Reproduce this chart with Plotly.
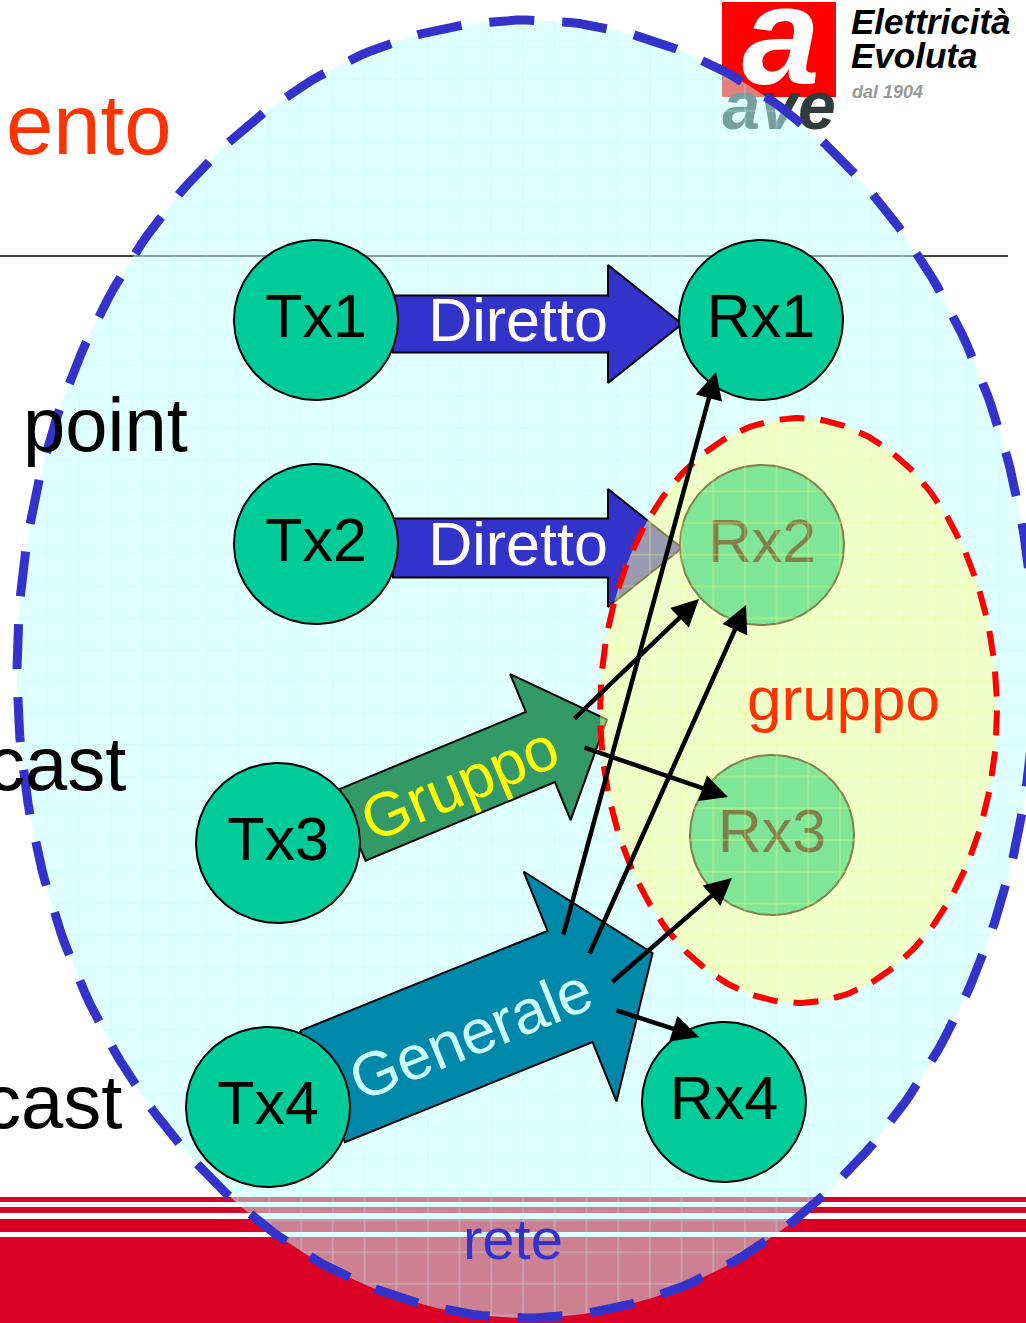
import numpy as np
import plotly.graph_objects as go

# ---------------- data (labels / relations) ----------------
node_names = ["Tx1", "Rx1", "Tx2", "Rx2", "Tx3", "Rx3", "Tx4", "Rx4"]
grouped_nodes = ["Rx2", "Rx3"]
arrow_labels = ["Diretto", "Diretto", "Gruppo", "Generale"]
side_labels = ["ento", "point", "cast", "cast"]
group_label = "gruppo"
network_label = "rete"
logo_mark = "a"
logo_brand = "ave"
logo_lines = ["Elettricità", "Evoluta", "dal 1904"]
link_sources = ["Generale", "Generale", "Gruppo", "Gruppo", "Generale", "Generale"]
link_targets = ["Rx1", "Rx2", "Rx2", "Rx3", "Rx3", "Rx4"]

# ---------------- geometry (pixel space) ----------------
W, H = 1026, 1323
FONT = "Liberation Sans, Arial, Helvetica, sans-serif"

node_pos = {
    "Tx1": (316, 320), "Rx1": (761, 320),
    "Tx2": (316, 544), "Rx2": (762, 545),
    "Tx3": (278, 843), "Rx3": (772, 835),
    "Tx4": (268, 1107), "Rx4": (724, 1102),
}
NODE_RX, NODE_RY = 82, 80

# block arrows: tail centre, angle, body length, body width, head length, head width
arrow_geo = [
    dict(x=393, y=324, ang=0, bl=215, bw=57, hl=74, hw=118, fill="#3333CC",
         tx=518, ty=326, tang=0, tcol="#FFFFFF"),
    dict(x=393, y=548, ang=0, bl=215, bw=59, hl=74, hw=118, fill="#3333CC",
         tx=518, ty=550, tang=0, tcol="#FFFFFF"),
    dict(x=351, y=825.5, ang=22.5, bl=205, bw=76, hl=72, hw=158, fill="#339966",
         tx=459, ty=783, tang=-22.5, tcol="#FFFF00"),
    dict(x=322.5, y=1086.5, ang=22, bl=267, bw=120, hl=89, hw=248, fill="#0088AA",
         tx=470, ty=1034, tang=-22, tcol="#CCFFFF"),
]

# black link arrows: tail (x, y) -> tip (x, y)
link_geo = [
    ((563, 936), (716, 372)),
    ((589, 955), (746, 605)),
    ((573, 720), (699, 599)),
    ((583, 747), (728, 797)),
    ((611, 983), (732, 878)),
    ((615, 1010), (699, 1037)),
]

side_geo = [
    dict(x=4, y=124, size=85, color="#FF3300", anchor="left"),
    dict(x=21, y=424, size=76, color="#000000", anchor="left"),
    dict(x=128, y=763, size=76, color="#000000", anchor="right"),
    dict(x=124, y=1101, size=76, color="#000000", anchor="right"),
]

big_ell = dict(cx=526, cy=669, rx=509, ry=649)
grp_ell = dict(cx=798.5, cy=710.5, rx=198.5, ry=292.5)


def ellipse_pts(cx, cy, rx, ry, n=361):
    t = np.linspace(0, 2 * np.pi, n)
    return cx + rx * np.cos(t), cy + ry * np.sin(t)


def block_arrow(g):
    a = np.radians(g["ang"])
    d = np.array([np.cos(a), -np.sin(a)])
    p = np.array([np.sin(a), np.cos(a)])
    o = np.array([g["x"], g["y"]])
    bl, bw, hl, hw = g["bl"], g["bw"], g["hl"], g["hw"]
    pts = [o - p * bw / 2, o + d * bl - p * bw / 2, o + d * bl - p * hw / 2,
           o + d * (bl + hl), o + d * bl + p * hw / 2, o + d * bl + p * bw / 2,
           o + p * bw / 2, o - p * bw / 2]
    pts = np.array(pts)
    return pts[:, 0], pts[:, 1]


fig = go.Figure()
shapes = []

# red network band with white stripes
red = "#DB0026"
for y0, y1 in [(1197, 1202), (1207, 1213), (1219, 1232), (1237, H)]:
    shapes.append(dict(type="rect", x0=0, x1=W, y0=y0, y1=y1, fillcolor=red,
                       line=dict(width=0), layer="below"))
# title rule
shapes.append(dict(type="line", x0=0, x1=1008, y0=256, y1=256,
                   line=dict(color="#000000", width=1.5), layer="below"))
# logo square
shapes.append(dict(type="rect", x0=722, x1=836, y0=2, y1=97, fillcolor="#FF0000",
                   line=dict(width=0), layer="below"))

# logo letters (below the big ellipse)
fig.add_trace(go.Scatter(x=[781], y=[49], mode="text", text=[logo_mark],
                         textfont=dict(family=FONT, size=140, color="#FFFFFF",
                                       weight="bold", style="italic"),
                         hoverinfo="skip", showlegend=False))
fig.add_trace(go.Scatter(x=[779], y=[112], mode="text", text=[logo_brand],
                         textfont=dict(family=FONT, size=68, color="#2F3C3B",
                                       weight="bold", style="italic"),
                         hoverinfo="skip", showlegend=False))

# big ellipse fill
ex, ey = ellipse_pts(**big_ell)
fig.add_trace(go.Scatter(
    x=ex, y=ey, mode="lines", line=dict(width=0, color="rgba(0,0,0,0)"),
    fill="toself", fillcolor="rgba(193,255,255,0.5)",
    fillpattern=dict(shape="+", size=31.7, solidity=0.05,
                     fgcolor="rgba(180,248,255,0.58)",
                     bgcolor="rgba(193,255,255,0.5)", fillmode="replace"),
    hoverinfo="skip", showlegend=False))
fig.add_trace(go.Scatter(
    x=ex, y=ey, mode="lines", line=dict(width=9, color="#3333CC", dash="45px,28px"),
    hoverinfo="skip", showlegend=False))

# block arrows
for g in arrow_geo:
    ax_, ay_ = block_arrow(g)
    fig.add_trace(go.Scatter(x=ax_, y=ay_, mode="lines", fill="toself",
                             fillcolor=g["fill"], line=dict(color="#000000", width=2),
                             hoverinfo="skip", showlegend=False))

# nodes
for name in node_names:
    cx, cy = node_pos[name]
    nx, ny = ellipse_pts(cx, cy, NODE_RX, NODE_RY, 181)
    fig.add_trace(go.Scatter(x=nx, y=ny, mode="lines", fill="toself",
                             fillcolor="#00CC99", line=dict(color="#000000", width=2),
                             hoverinfo="skip", showlegend=False))
    fig.add_trace(go.Scatter(x=[cx], y=[cy + 2], mode="text", text=[name],
                             textfont=dict(family=FONT, size=61, color="#000000"),
                             hoverinfo="skip", showlegend=False))

# straight labels on Diretto arrows
for lab, g in zip(arrow_labels[:2], arrow_geo[:2]):
    fig.add_trace(go.Scatter(x=[g["tx"]], y=[g["ty"]], mode="text", text=[lab],
                             textfont=dict(family=FONT, size=61, color=g["tcol"]),
                             hoverinfo="skip", showlegend=False))

# group ellipse (semi-transparent yellow over Rx2 / Rx3)
gx, gy = ellipse_pts(**grp_ell)
fig.add_trace(go.Scatter(
    x=gx, y=gy, mode="lines", line=dict(width=0, color="rgba(0,0,0,0)"),
    fill="toself", fillcolor="rgba(255,255,150,0.5)",
    fillpattern=dict(shape="+", size=31.7, solidity=0.05,
                     fgcolor="rgba(255,255,120,0.65)",
                     bgcolor="rgba(255,255,150,0.5)", fillmode="replace"),
    hoverinfo="skip", showlegend=False))
fig.add_trace(go.Scatter(
    x=gx, y=gy, mode="lines", line=dict(width=6, color="#FF0000", dash="25px,16px"),
    hoverinfo="skip", showlegend=False))

annotations = []
# rotated labels
for lab, g in zip(arrow_labels[2:], arrow_geo[2:]):
    annotations.append(dict(x=g["tx"], y=g["ty"], xref="x", yref="y", text=lab,
                            showarrow=False, textangle=g["tang"],
                            font=dict(family=FONT, size=62, color=g["tcol"])))

# link arrows
for (t0, t1) in link_geo:
    annotations.append(dict(x=t1[0], y=t1[1], ax=t0[0], ay=t0[1], xref="x", yref="y",
                            axref="x", ayref="y", text="", showarrow=True,
                            arrowhead=2, arrowwidth=4.5, arrowsize=1.2,
                            arrowcolor="#000000", standoff=0, startstandoff=0))

# side labels
for lab, s in zip(side_labels, side_geo):
    annotations.append(dict(x=s["x"], y=s["y"], xref="x", yref="y", text=lab,
                            showarrow=False, xanchor=s["anchor"], yanchor="middle",
                            font=dict(family=FONT, size=s["size"], color=s["color"])))

annotations.append(dict(x=843, y=698, xref="x", yref="y", text=group_label,
                        showarrow=False, font=dict(family=FONT, size=62, color="#FF3300")))
annotations.append(dict(x=513, y=1238, xref="x", yref="y", text=network_label,
                        showarrow=False, font=dict(family=FONT, size=58, color="#3333CC")))

# logo wording
logo_geo = [(849, 21, 35, "#000000"), (849, 55, 35, "#000000"), (850, 92, 18, "#999999")]
for lab, (lx, ly, ls, lc) in zip(logo_lines, logo_geo):
    annotations.append(dict(x=lx, y=ly, xref="x", yref="y", text=lab, showarrow=False,
                            xanchor="left", yanchor="middle",
                            font=dict(family=FONT, size=ls, color=lc,
                                      weight="bold", style="italic")))

fig.update_layout(
    width=W, height=H, margin=dict(l=0, r=0, t=0, b=0),
    paper_bgcolor="#FFFFFF", plot_bgcolor="#FFFFFF",
    xaxis=dict(range=[0, W], visible=False, fixedrange=True),
    yaxis=dict(range=[H, 0], visible=False, fixedrange=True),
    shapes=shapes, annotations=annotations, showlegend=False,
)

fig.write_html("out.html", config={"displayModeBar": False},
               post_script="document.body.style.margin='0';"
                           "document.body.style.overflow='hidden';")
